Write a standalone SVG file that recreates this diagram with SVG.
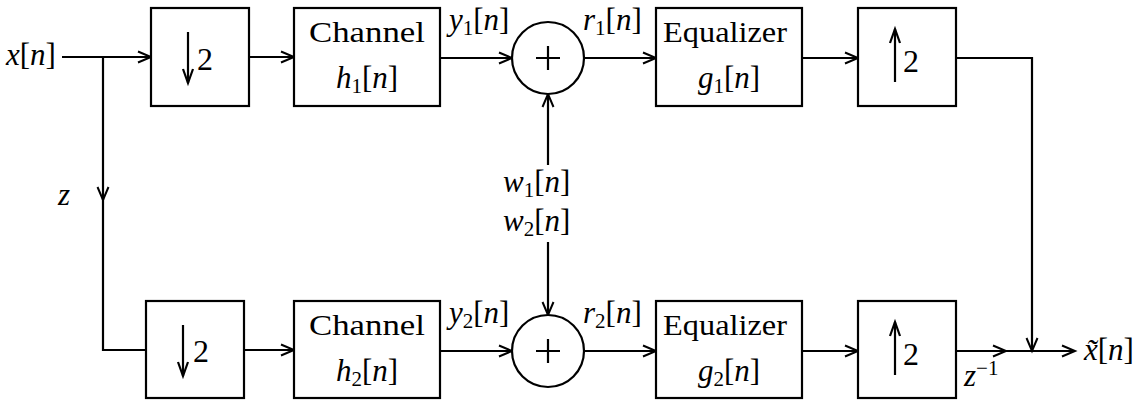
<svg xmlns="http://www.w3.org/2000/svg" width="1146" height="402" viewBox="0 0 1146 402">
<defs>
<marker id="ah" markerUnits="userSpaceOnUse" markerWidth="16" markerHeight="14" refX="14" refY="7" orient="auto" overflow="visible">
<path d="M1,1.5 L14,7 L1,12.5" fill="none" stroke="#000" stroke-width="2"/>
</marker>
</defs>
<style>
.b{fill:#fff;stroke:#000;stroke-width:2.2}
.l{fill:none;stroke:#000;stroke-width:2.2}
text{font-family:"Liberation Serif","DejaVu Serif",serif;font-size:31px;fill:#000}
.i{font-style:italic}
.s{font-size:21px}
.m{text-anchor:middle}
.t{font-size:29px}
.d{font-size:32px}
</style>
<rect width="1146" height="402" fill="#fff"/>

<g id="connectors">
<path class="l" d="M62,57 H151" marker-end="url(#ah)"/>
<path class="l" d="M103,57 V200" marker-end="url(#ah)"/>
<path class="l" d="M103,198 V350 H151"/>
<path class="l" d="M249,57 H294" marker-end="url(#ah)"/>
<path class="l" d="M440,58 H512" marker-end="url(#ah)"/>
<path class="l" d="M584,58 H656" marker-end="url(#ah)"/>
<path class="l" d="M802,58 H858" marker-end="url(#ah)"/>
<path class="l" d="M956,58 H1032 V351" marker-end="url(#ah)"/>
<path class="l" d="M548,165 V94" marker-end="url(#ah)"/>
<path class="l" d="M548,242 V315" marker-end="url(#ah)"/>
<path class="l" d="M244,350 H294" marker-end="url(#ah)"/>
<path class="l" d="M440,351 H512" marker-end="url(#ah)"/>
<path class="l" d="M584,351 H656" marker-end="url(#ah)"/>
<path class="l" d="M802,351 H858" marker-end="url(#ah)"/>
<path class="l" d="M956,351 H1006" marker-end="url(#ah)"/>
<path class="l" d="M1004,351 H1075" marker-end="url(#ah)"/>
</g>

<g id="in-label"><text x="6" y="65"><tspan class="i">x</tspan>[<tspan class="i">n</tspan>]</text></g>
<g id="z-label"><text x="58" y="205" class="i">z</text></g>

<g id="down1">
<rect class="b" x="151" y="8" width="98" height="98"/>
<path class="l" d="M188,32 V83"/>
<path class="l" d="M183,69 L188,83 L193,69"/>
<text class="d" x="197" y="70">2</text>
</g>
<g id="chan1">
<rect class="b" x="294" y="8" width="146" height="98"/>
<text class="m t" x="367" y="42" textLength="116" lengthAdjust="spacingAndGlyphs">Channel</text>
<text class="m" x="367" y="88"><tspan class="i">h</tspan><tspan class="s" dy="5">1</tspan><tspan dy="-5">[</tspan><tspan class="i">n</tspan>]</text>
</g>
<g id="sum1">
<circle class="b" cx="548" cy="58" r="36"/>
<path class="l" d="M536,58 H560 M548,46 V70"/>
</g>
<g id="eq1">
<rect class="b" x="656" y="8" width="146" height="98"/>
<text class="m t" x="725" y="42" textLength="124" lengthAdjust="spacingAndGlyphs">Equalizer</text>
<text class="m" x="729" y="88"><tspan class="i">g</tspan><tspan class="s" dy="5">1</tspan><tspan dy="-5">[</tspan><tspan class="i">n</tspan>]</text>
</g>
<g id="up1">
<rect class="b" x="858" y="8" width="98" height="98"/>
<path class="l" d="M895,82 V29"/>
<path class="l" d="M890,43 L895,29 L900,43"/>
<text class="d" x="903" y="72">2</text>
</g>

<g id="down2">
<rect class="b" x="146" y="301" width="98" height="97"/>
<path class="l" d="M183,325 V376"/>
<path class="l" d="M178,362 L183,376 L188,362"/>
<text class="d" x="193" y="362">2</text>
</g>
<g id="chan2">
<rect class="b" x="294" y="301" width="146" height="97"/>
<text class="m t" x="367" y="335" textLength="116" lengthAdjust="spacingAndGlyphs">Channel</text>
<text class="m" x="367" y="381"><tspan class="i">h</tspan><tspan class="s" dy="5">2</tspan><tspan dy="-5">[</tspan><tspan class="i">n</tspan>]</text>
</g>
<g id="sum2">
<circle class="b" cx="548" cy="351" r="36"/>
<path class="l" d="M536,351 H560 M548,339 V363"/>
</g>
<g id="eq2">
<rect class="b" x="656" y="301" width="146" height="97"/>
<text class="m t" x="725" y="335" textLength="124" lengthAdjust="spacingAndGlyphs">Equalizer</text>
<text class="m" x="729" y="381"><tspan class="i">g</tspan><tspan class="s" dy="5">2</tspan><tspan dy="-5">[</tspan><tspan class="i">n</tspan>]</text>
</g>
<g id="up2">
<rect class="b" x="858" y="301" width="98" height="97"/>
<path class="l" d="M895,375 V322"/>
<path class="l" d="M890,336 L895,322 L900,336"/>
<text class="d" x="903" y="365">2</text>
</g>

<g id="labels">
<text x="449" y="30"><tspan class="i">y</tspan><tspan class="s" dy="5">1</tspan><tspan dy="-5">[</tspan><tspan class="i">n</tspan>]</text>
<text x="583" y="30"><tspan class="i">r</tspan><tspan class="s" dy="5">1</tspan><tspan dy="-5">[</tspan><tspan class="i">n</tspan>]</text>
<text x="449" y="323"><tspan class="i">y</tspan><tspan class="s" dy="5">2</tspan><tspan dy="-5">[</tspan><tspan class="i">n</tspan>]</text>
<text x="583" y="323"><tspan class="i">r</tspan><tspan class="s" dy="5">2</tspan><tspan dy="-5">[</tspan><tspan class="i">n</tspan>]</text>
<text x="503" y="192"><tspan class="i">w</tspan><tspan class="s" dy="5">1</tspan><tspan dy="-5">[</tspan><tspan class="i">n</tspan>]</text>
<text x="503" y="231"><tspan class="i">w</tspan><tspan class="s" dy="5">2</tspan><tspan dy="-5">[</tspan><tspan class="i">n</tspan>]</text>
<text x="964" y="386"><tspan class="i">z</tspan><tspan class="s" dy="-11">−1</tspan></text>
<text x="1084" y="360"><tspan class="i">x̃</tspan>[<tspan class="i">n</tspan>]</text>
</g>
</svg>
